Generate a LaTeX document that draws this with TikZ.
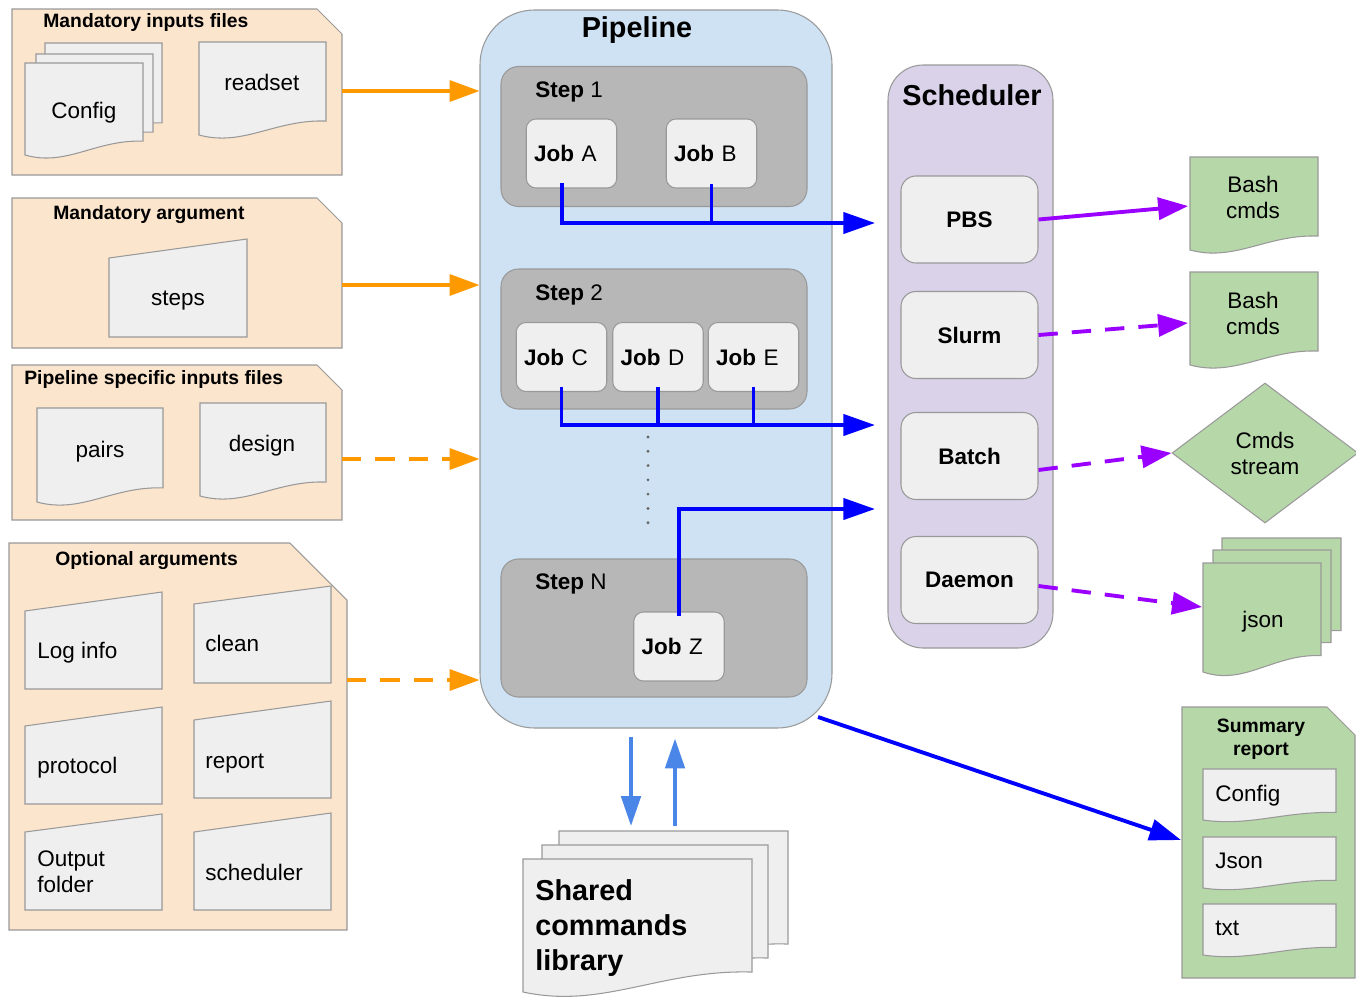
\documentclass[tikz,border=0pt]{standalone}
\usepackage{fontspec}
\setmainfont{Liberation Sans}
\usepackage{xcolor}
\usetikzlibrary{arrows.meta,shapes.geometric}

\definecolor{peach}{HTML}{FCE5CD}
\definecolor{edgegray}{HTML}{999999}
\definecolor{paper}{HTML}{EFEFEF}
\definecolor{pipeblue}{HTML}{CFE2F3}
\definecolor{stepgray}{HTML}{B7B7B7}
\definecolor{lilac}{HTML}{D9D2E9}
\definecolor{leaf}{HTML}{B6D7A8}
\definecolor{amber}{HTML}{FF9900}
\definecolor{purp}{HTML}{9900FF}
\definecolor{skyline}{HTML}{4A86E8}

\newcommand{\pxu}{0.02cm}
% document with wavy bottom: left, top, right, bottom, fill
\newcommand{\docshape}[5]{\draw[boxline,fill=#5](#1,#2)--(#3,#2)--(#3,{#4-0.15*(#4-#2)}) .. controls ({#1+0.6*(#3-#1)},{#4-0.17*(#4-#2)}) and ({#1+0.35*(#3-#1)},{#4+0.13*(#4-#2)}) .. (#1,#4)--cycle;}
% card with cut corner: left, top, right, bottom, cut, fill
\newcommand{\foldpanel}[6]{\draw[boxline,fill=#6](#1,#2)--({#3-#5},#2)--(#3,{#2+#5})--(#3,#4)--(#1,#4)--cycle;}
% manual input: left, top left, right, top right, bottom
\newcommand{\manualin}[5]{\draw[boxline,fill=paper](#1,#2)--(#3,#4)--(#3,#5)--(#1,#5)--cycle;}

\tikzset{
 boxline/.style={draw=edgegray,line width=0.6pt},
 lbl/.style={font=\fontsize{12.8}{14.8}\selectfont,inner sep=0pt,align=center},
 hdr/.style={font=\fontsize{11}{13}\selectfont\bfseries,inner sep=0pt,align=center},
 bighdr/.style={font=\fontsize{16.4}{20}\selectfont\bfseries,inner sep=0pt,align=left},
 stepbox/.style={boxline,fill=stepgray,rounded corners=10pt,minimum width=306*\pxu,minimum height=140*\pxu,inner sep=0pt},
 jobbox/.style={boxline,fill=paper,rounded corners=5.5pt,minimum height=69*\pxu,inner xsep=4.5pt,text width=42.5pt,align=left,font=\fontsize{12.8}{14.8}\selectfont},
 schbox/.style={boxline,fill=paper,rounded corners=8.5pt,minimum width=137*\pxu,minimum height=87*\pxu,inner sep=0pt,font=\fontsize{12.8}{14.8}\selectfont\bfseries},
 feed/.style={amber,line width=1.8pt,-{Triangle[length=17pt,width=12pt]}},
 jobflow/.style={blue,line width=2.2pt},
 submit/.style={purp,line width=2.2pt,-{Triangle[length=17pt,width=12.5pt]}},
 libflow/.style={skyline,line width=2.2pt,-{Triangle[length=17pt,width=11pt]}},
 dashes/.style={dash pattern=on 11pt off 8pt}
}

\begin{document}
\begin{tikzpicture}[x=0.02cm,y=-0.02cm]
\useasboundingbox (0,0) rectangle (1356,998);

% input panels
\foldpanel{12}{9}{342}{175}{25}{peach}
\node[hdr,anchor=base west] (mandfiles) at (43,27) {Mandatory inputs files};
\docshape{45}{43}{162}{137}{paper}
\docshape{36}{54}{153}{146}{paper}
\docshape{25}{63}{143}{155}{paper}
\node[lbl,anchor=base] (config) at (84,118) {Config};
\docshape{199}{42}{326}{135}{paper}
\node[lbl,anchor=base] (readset) at (262,90) {readset};

\foldpanel{12}{198}{342}{348}{25}{peach}
\node[hdr,anchor=base west] (mandarg) at (53,219) {Mandatory argument};
\manualin{109}{258}{247}{239}{337}
\node[lbl,anchor=base] (steps) at (178,305) {steps};

\foldpanel{12}{365}{342}{520}{25}{peach}
\node[hdr,anchor=base west] (specfiles) at (24,384) {Pipeline specific inputs files};
\docshape{37}{408}{163}{502}{paper}
\node[lbl,anchor=base] (pairs) at (100,457) {pairs};
\docshape{200}{403}{326}{496}{paper}
\node[lbl,anchor=base] (design) at (262,451) {design};

\foldpanel{9}{543}{347}{930}{57}{peach}
\node[hdr,anchor=base west] (optargs) at (55,565) {Optional arguments};
\manualin{25}{611}{162}{592}{689}
\manualin{194}{604}{331}{586}{683}
\manualin{25}{726}{162}{707}{804}
\manualin{194}{720}{331}{701}{798}
\manualin{25}{832}{162}{814}{910}
\manualin{194}{832}{331}{813}{910}
\node[lbl,anchor=base west] (loginfo) at (37,658) {Log info};
\node[lbl,anchor=base west] (clean) at (205,651) {clean};
\node[lbl,anchor=base west] (protocol) at (37,773) {protocol};
\node[lbl,anchor=base west] (report) at (205,768) {report};
\node[lbl,anchor=north west,align=left] (outfolder) at (37,850) {Output\\folder};
\node[lbl,anchor=base west] (schedarg) at (205,880) {scheduler};

% pipeline
\node[boxline,fill=pipeblue,rounded corners=31pt,minimum width=352*\pxu,minimum height=718*\pxu,inner sep=0pt] (pipeline) at (656,369) {};
\node[bighdr,anchor=base] (pipetitle) at (637,37) {Pipeline};
\node[stepbox] (step1) at (654,136.5) {};
\node[lbl,anchor=base west] (step1lbl) at (535,97) {\textbf{Step} 1};
\node[jobbox] (jobA) at (571.5,153.5) {\textbf{Job} A};
\node[jobbox] (jobB) at (711.5,153.5) {\textbf{Job} B};
\node[stepbox] (step2) at (654,339) {};
\node[lbl,anchor=base west] (step2lbl) at (535,300) {\textbf{Step} 2};
\node[jobbox] (jobC) at (561.5,357) {\textbf{Job} C};
\node[jobbox] (jobD) at (658,357) {\textbf{Job} D};
\node[jobbox] (jobE) at (753.5,357) {\textbf{Job} E};
\draw[black!60,line width=1.8pt,line cap=round,dash pattern=on 0pt off 8.13pt] (648,437) -- (648,523);
\node[stepbox,minimum height=138*\pxu] (stepN) at (654,628) {};
\node[lbl,anchor=base west] (stepNlbl) at (535,589) {\textbf{Step} N};
\node[jobbox] (jobZ) at (679,646.5) {\textbf{Job} Z};

% scheduler
\node[boxline,fill=lilac,rounded corners=20pt,minimum width=165*\pxu,minimum height=583*\pxu,inner sep=0pt] (scheduler) at (970.5,356.5) {};
\node[bighdr,anchor=base] (schtitle) at (972,105) {Scheduler};
\node[schbox] (pbs) at (969.5,219.5) {PBS};
\node[schbox] (slurm) at (969.5,335) {Slurm};
\node[schbox] (batch) at (969.5,456) {Batch};
\node[schbox] (daemon) at (969.5,580) {Daemon};

% jobs to scheduler
\coordinate (sch1) at (875,223);
\coordinate (sch2) at (875,425);
\coordinate (sch3) at (875,509);
\draw[jobflow,-{Triangle[length=18pt,width=12pt]}] ([xshift=-9.5*\pxu,yshift=6*\pxu]jobA.south) |- (sch1);
\draw[jobflow] ([yshift=5*\pxu]jobB.south) -- (jobB.south |- sch1);
\draw[jobflow,-{Triangle[length=18pt,width=12pt]}] ([yshift=5*\pxu]jobC.south) |- (sch2);
\draw[jobflow] ([yshift=5*\pxu]jobD.south) -- (jobD.south |- sch2);
\draw[jobflow] ([yshift=5*\pxu]jobE.south) -- (jobE.south |- sch2);
\draw[jobflow,-{Triangle[length=18pt,width=12pt]}] ([yshift=-5*\pxu]jobZ.north) |- (sch3);

% inputs to pipeline
\coordinate (in1) at (342,91);
\coordinate (in2) at (342,285);
\coordinate (in3) at (342,459);
\coordinate (in4) at (347,680);
\draw[feed] (in1) -- (in1 -| pipeline.west);
\draw[feed] (in2) -- (in2 -| pipeline.west);
\draw[feed,dashes] (in3) -- (in3 -| pipeline.west);
\draw[feed,dashes] (in4) -- (in4 -| pipeline.west);

% scheduler outputs
\docshape{1190}{157}{1318}{250}{leaf}
\node[lbl,anchor=north] (bash1) at (1253,176) {Bash\\cmds};
\docshape{1190}{272}{1318}{365}{leaf}
\node[lbl,anchor=north] (bash2) at (1253,292) {Bash\\cmds};
\node[diamond,lbl,boxline,fill=leaf,minimum width=186*\pxu,minimum height=140*\pxu] (stream) at (1265,453) {Cmds\\stream};
\docshape{1222}{538}{1341}{647}{leaf}
\docshape{1213}{550}{1331}{659}{leaf}
\docshape{1203}{563}{1321}{672}{leaf}
\node[lbl,anchor=base] (json) at (1263,627) {json};
\coordinate (bash1in) at (1188,206);
\coordinate (bash2in) at (1188,323);
\coordinate (jsonin) at (1202,607);
\draw[submit] (pbs.east) -- (bash1in);
\draw[submit,dashes] (slurm.east) -- (bash2in);
\draw[submit,dashes] ([yshift=-14*\pxu]batch.east) -- (stream.west);
\draw[submit,dashes] ([yshift=-6*\pxu]daemon.east) -- (jsonin);

% summary report
\foldpanel{1182}{707}{1355}{978}{28}{leaf}
\node[hdr,anchor=north] (summary) at (1261,719) {Summary\\report};
\docshape{1203}{769}{1336}{820}{paper}
\docshape{1203}{837}{1336}{888}{paper}
\docshape{1203}{904}{1336}{955}{paper}
\node[lbl,anchor=base west] (sumconfig) at (1215,801) {Config};
\node[lbl,anchor=base west] (sumjson) at (1215,868) {Json};
\node[lbl,anchor=base west] (sumtxt) at (1215,935) {txt};
\coordinate (pipeout) at (818,717);
\coordinate (sumin) at (1181,840);
\draw[jobflow,-{Triangle[length=18pt,width=12pt]}] (pipeout) -- (sumin);

% shared library
\docshape{559}{831}{788}{964}{paper}
\docshape{542}{845}{768}{978}{paper}
\docshape{523}{859}{752}{992}{paper}
\node[bighdr,anchor=north west] (library) at (535,879) {Shared\\commands\\library};
\coordinate (libin) at (631,826);
\coordinate (libout) at (675,826);
\draw[libflow] ([xshift=-25*\pxu,yshift=-8*\pxu]pipeline.south) -- (libin);
\draw[libflow] (libout) -- ([xshift=19*\pxu,yshift=-10*\pxu]pipeline.south);
\end{tikzpicture}
\end{document}
